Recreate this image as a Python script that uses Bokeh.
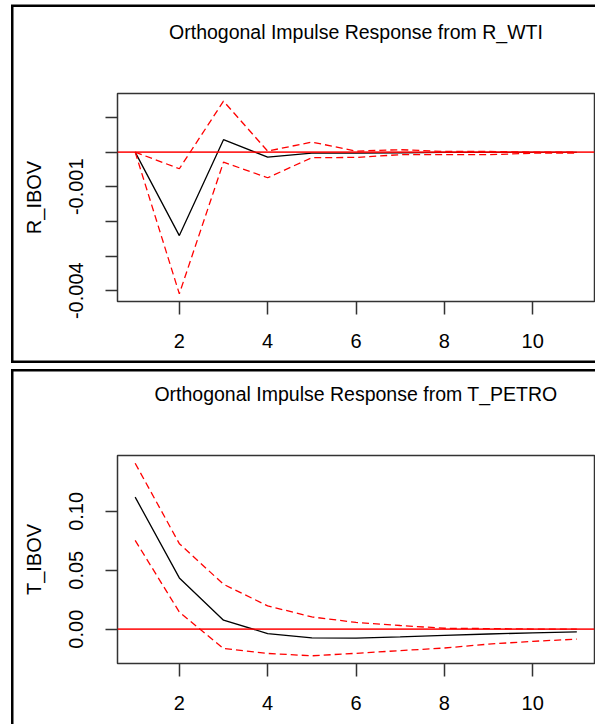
from bokeh.plotting import figure
from bokeh.layouts import column
from bokeh.models import (Span, FixedTicker, LinearAxis,
                          PrintfTickFormatter, Range1d)
from bokeh.embed import file_html
from bokeh.resources import INLINE

# ---------------- data ----------------
steps = [1, 2, 3, 4, 5, 6, 7, 8, 9, 10, 11]
x_ticks = [2, 4, 6, 8, 10]

title_1 = "Orthogonal Impulse Response from R_WTI"
ylabel_1 = "R_IBOV"
irf_1 = [0.0, -0.00241, 0.00036, -0.000145, -0.00003, -0.00003,
         -0.00002, -0.00001, -0.00001, -0.00001, -0.00001]
lower_1 = [0.0, -0.00409, -0.00029, -0.00074, -0.00016, -0.000153,
           -0.000075, -0.000075, -0.000075, -0.00003, -0.00003]
upper_1 = [0.0, -0.00048, 0.00147, 0.00003, 0.00029, 0.00003,
           0.00007, 0.00002, 0.00002, 0.0, 0.0]
yticks_1_labeled = [-0.004, -0.001]
yticks_1_unlabeled = [0.001, 0.0, -0.002, -0.003]

title_2 = "Orthogonal Impulse Response from T_PETRO"
ylabel_2 = "T_IBOV"
irf_2 = [0.1121, 0.0435, 0.0076, -0.0037, -0.0074, -0.0076,
         -0.0065, -0.0052, -0.0041, -0.0031, -0.0023]
lower_2 = [0.0754, 0.0145, -0.0164, -0.0206, -0.0226, -0.0205,
           -0.0182, -0.0160, -0.0127, -0.0103, -0.0085]
upper_2 = [0.1409, 0.0726, 0.0381, 0.0198, 0.0104, 0.0057,
           0.0031, 0.0008, 0.0005, 0.0001, 0.0]
yticks_2_labeled = [0.0, 0.05, 0.10]
yticks_2_unlabeled = []

FONT = "Liberation Sans"
FS = "20px"
FS_TITLE = "19.5px"


def make_panel(title, ylabel, irf, lower, upper, yt_major, yt_minor, yfmt,
               height, b_top, b_bottom, styles):
    allv = list(irf) + list(lower) + list(upper)
    lo, hi = min(allv), max(allv)
    pad = 0.04 * (hi - lo)
    p = figure(width=595, height=height,
               x_range=Range1d(0.6, 11.4), y_range=Range1d(lo - pad, hi + pad),
               output_backend="svg", toolbar_location=None,
               min_border_left=117, min_border_right=1,
               min_border_top=b_top, min_border_bottom=b_bottom,
               styles=styles)
    p.grid.visible = False
    p.background_fill_color = "white"
    p.border_fill_color = "white"
    p.border_fill_alpha = 0.0          # lets the CSS panel frame show through
    p.outline_line_color = "#333333"
    p.outline_line_width = 1.5
    p.outline_line_alpha = 1.0

    xa = p.xaxis[0]
    xa.ticker = FixedTicker(ticks=x_ticks)
    xa.axis_line_color = None
    xa.major_tick_in = 0
    xa.major_tick_out = 13
    xa.major_tick_line_color = "#333333"
    xa.major_tick_line_width = 1.5
    xa.minor_tick_line_color = None
    xa.major_label_text_font = FONT
    xa.major_label_text_font_size = FS
    xa.major_label_text_color = "black"
    xa.major_label_standoff = 19

    ya = p.yaxis[0]
    ya.ticker = FixedTicker(ticks=yt_major, minor_ticks=yt_minor)
    ya.formatter = PrintfTickFormatter(format=yfmt)
    ya.axis_line_color = None
    ya.major_tick_in = 0
    ya.major_tick_out = 12
    ya.minor_tick_in = 0
    ya.minor_tick_out = 12
    ya.major_tick_line_color = "#333333"
    ya.minor_tick_line_color = "#333333"
    ya.major_tick_line_width = 1.5
    ya.minor_tick_line_width = 1.5
    ya.major_label_orientation = "vertical"
    ya.major_label_text_font = FONT
    ya.major_label_text_font_size = FS
    ya.major_label_text_color = "black"
    ya.major_label_standoff = 22
    ya.axis_label = ylabel
    ya.axis_label_text_font = FONT
    ya.axis_label_text_font_size = FS
    ya.axis_label_text_font_style = "normal"
    ya.axis_label_text_color = "black"
    ya.axis_label_standoff = 22

    # title drawn as the label of an empty top axis
    ta = LinearAxis(ticker=FixedTicker(ticks=[]), axis_label=title)
    ta.axis_line_color = None
    ta.major_tick_line_color = None
    ta.minor_tick_line_color = None
    ta.major_tick_out = 0
    ta.major_tick_in = 0
    ta.major_label_text_font_size = "0px"
    ta.axis_label_text_font = FONT
    ta.axis_label_text_font_size = FS_TITLE
    ta.axis_label_text_font_style = "normal"
    ta.axis_label_text_color = "black"
    ta.axis_label_standoff = 51
    p.add_layout(ta, "above")

    p.line(steps, irf, line_color="black", line_width=1.3)
    p.line(steps, lower, line_color="red", line_width=1.3, line_dash="7 4")
    p.line(steps, upper, line_color="red", line_width=1.3, line_dash="7 4")
    p.add_layout(Span(location=0, dimension="width", line_color="red",
                      line_width=1.6, line_alpha=0.85))
    return p


frame_css_top = {
    "box-shadow": ("inset 11px 0 0 0 white, inset 0 4.5px 0 0 white, "
                   "inset 0 -3px 0 0 white, "
                   "inset 13.5px 0 0 0 black, inset 0 7px 0 0 black, "
                   "inset 0 -5.5px 0 0 black"),
}
frame_css_bottom = {
    "box-shadow": ("inset 11px 0 0 0 white, inset 0 3px 0 0 white, "
                   "inset 13.5px 0 0 0 black, inset 0 5.5px 0 0 black"),
}

p1 = make_panel(title_1, ylabel_1, irf_1, lower_1, upper_1,
                yticks_1_labeled, yticks_1_unlabeled, "%.3f",
                366, 93, 65, frame_css_top)
p2 = make_panel(title_2, ylabel_2, irf_2, lower_2, upper_2,
                yticks_2_labeled, yticks_2_unlabeled, "%.2f",
                358, 89, 61, frame_css_bottom)

layout = column(p1, p2, spacing=0)
open("out.html", "w").write(file_html(layout, INLINE))
